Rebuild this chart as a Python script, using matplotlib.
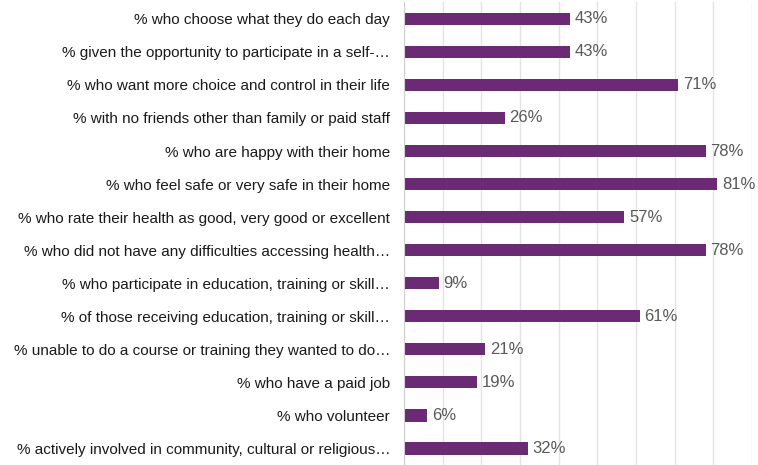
import matplotlib.pyplot as plt

labels = [
    "% who choose what they do each day",
    "% given the opportunity to participate in a self-\u2026",
    "% who want more choice and control in their life",
    "% with no friends other than family or paid staff",
    "% who are happy with their home",
    "% who feel safe or very safe in their home",
    "% who rate their health as good, very good or excellent",
    "% who did not have any difficulties accessing health\u2026",
    "% who participate in education, training or skill\u2026",
    "% of those receiving education, training or skill\u2026",
    "% unable to do a course or training they wanted to do\u2026",
    "% who have a paid job",
    "% who volunteer",
    "% actively involved in community, cultural or religious\u2026",
]
values = [43, 43, 71, 26, 78, 81, 57, 78, 9, 61, 21, 19, 6, 32]

plt.rcParams["font.family"] = ["Liberation Sans", "DejaVu Sans"]

fig = plt.figure(figsize=(7.58, 4.65), dpi=100)
ax = fig.add_axes([0.533, 0.0, 0.459, 0.995])

y = range(len(values))
ax.barh(y, values, height=0.37, color="#6b2a74")
for i, v in zip(y, values):
    ax.text(v + 1.2, i, f"{v}%", va="center", ha="left", fontsize=12, color="#595959")

ax.set_xlim(0, 90)
ax.set_ylim(len(values) - 0.5, -0.5)
ax.set_xticks(range(0, 91, 10))
ax.set_xticklabels([])
ax.tick_params(axis="x", length=0)
ax.tick_params(axis="y", length=0, pad=10)
ax.set_yticks(list(y))
ax.set_yticklabels(labels, fontsize=11, color="#1a1a1a")
ax.grid(axis="x", color="#e3e3e3", linewidth=1)
ax.set_axisbelow(True)
for s in ["top", "right", "bottom"]:
    ax.spines[s].set_visible(False)
ax.spines["left"].set_color("#d0d0d0")

fig.savefig("out.png", dpi=100)
